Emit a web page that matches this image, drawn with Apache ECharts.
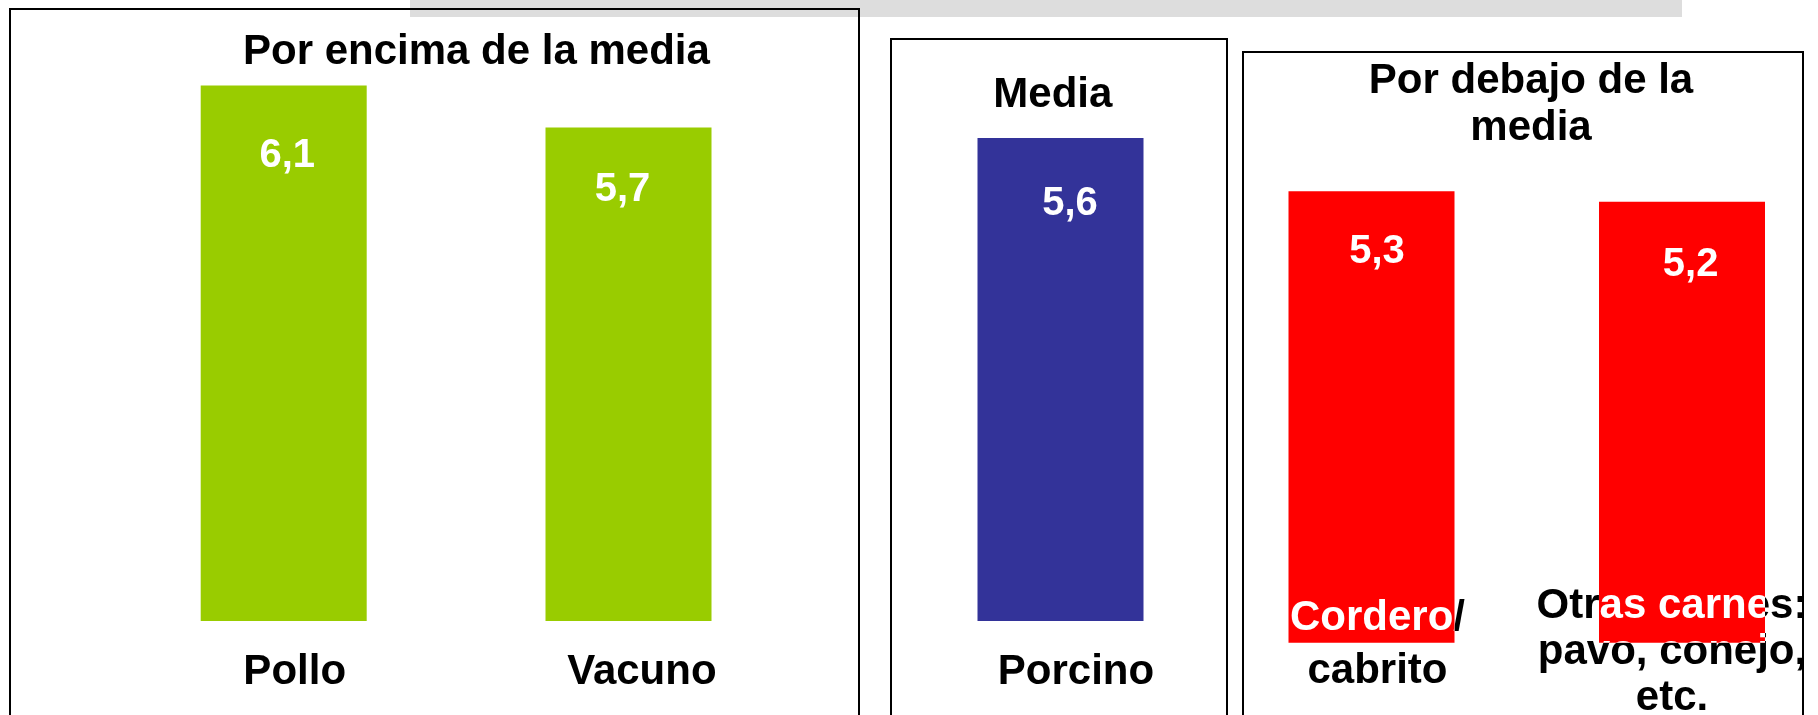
<!DOCTYPE html>
<html>
<head>
<meta charset="utf-8">
<script src="https://cdn.jsdelivr.net/npm/echarts@6/dist/echarts.min.js"></script>
<style>
  html, body { margin: 0; padding: 0; background: #ffffff; overflow: hidden; }
  #chart { width: 1840px; height: 715px; }
</style>
</head>
<body>
<div id="chart"></div>
<script>
// ---------------- data ----------------
const catsAbove = ['Pollo', 'Vacuno'];
const valsAbove = [6.1, 5.7];
const catsMean = ['Porcino'];
const valsMean = [5.6];
const catsBelow = ['Cordero/\ncabrito', 'Otras carnes:\npavo, conejo,\netc.'];
const valsBelow = [5.3, 5.2];
const panelTitles = ['Por encima de la media', 'Media', 'Por debajo de la\nmedia'];

// ---------------- layout / style ----------------
const FONT_FAMILY = '"Liberation Sans", Arial, Helvetica, sans-serif';
const Y_MIN = 1, Y_MAX = 6.5;
const BAR_W = 166;

const panels = [
  { cats: catsAbove, vals: valsAbove, color: '#99CC00',
    grid: { left: 111.3, width: 689.6, top: 43.5, height: 577.5 },
    valueLabelOffset: [[3.6, 70.3], [-6, 62.6]], catDx: [11, 13.4], catDy: [51.5, 51.5], catLH: [50, 50],
    box: { x: 10, y: 9, width: 849, height: 720 },
    title: { x: 476.4, y: 52.1, lh: 52 } },
  { cats: catsMean, vals: valsMean, color: '#333399',
    grid: { left: 900, width: 321, top: 43.5, height: 577.5 },
    valueLabelOffset: [[9.5, 65.5]], catDx: [15.5], catDy: [51.5], catLH: [50],
    box: { x: 891, y: 39, width: 336, height: 700 },
    title: { x: 1052.8, y: 95.9, lh: 52 } },
  { cats: catsBelow, vals: valsBelow, color: '#FF0000',
    grid: { left: 1216.25, width: 621, top: 65.2, height: 577.5 },
    valueLabelOffset: [[5.5, 61], [8.6, 63]], catDx: [6, -10], catDy: [2.3, 9.9], catLH: [53.5, 46],
    box: { x: 1243, y: 52, width: 560, height: 700 },
    title: { x: 1531, y: 104.8, lh: 47.4 } }
];

function fmt(v) { return Number(v).toFixed(1).replace('.', ','); }

function barSeries(p, i) {
  return {
    type: 'bar', xAxisIndex: i, yAxisIndex: i, barWidth: BAR_W, z: 2,
    itemStyle: { color: p.color },
    data: p.vals.map((v, j) => ({ value: v, label: { offset: p.valueLabelOffset[j] } })),
    label: {
      show: true, position: ['50%', 0], align: 'center', verticalAlign: 'middle',
      color: '#ffffff', fontSize: 40, fontWeight: 'bold', fontFamily: FONT_FAMILY,
      formatter: (prm) => fmt(prm.value)
    }
  };
}

function catLabelSeries(p, i, white) {
  return {
    type: 'custom', xAxisIndex: i, yAxisIndex: i, z: white ? 3 : 1, clip: false, silent: true,
    data: p.vals.map((v, j) => [j, v]),
    encode: { x: 0, y: 1 },
    renderItem: function (params, api) {
      const j = api.value(0), v = api.value(1);
      const top = api.coord([j, v]);
      const base = api.coord([j, Y_MIN]);
      const cx = top[0] + p.catDx[j];
      const cy = base[1] + p.catDy[j];
      const el = {
        type: 'text', x: cx, y: cy,
        style: {
          text: p.cats[j], fill: white ? '#ffffff' : '#000000',
          font: 'bold 42px ' + FONT_FAMILY,
          align: 'center', verticalAlign: 'middle',
          textAlign: 'center', textVerticalAlign: 'middle', lineHeight: p.catLH[j]
        }
      };
      if (white) {
        el.clipPath = { type: 'rect', shape: {
          x: top[0] - BAR_W / 2 - cx, y: top[1] - cy,
          width: BAR_W, height: base[1] - top[1] } };
      }
      return el;
    }
  };
}

const graphics = [
  { type: 'rect', z: 0, shape: { x: 410, y: 0, width: 1272, height: 17 }, style: { fill: '#DDDDDD' } }
];
panels.forEach((p, i) => {
  graphics.push({ type: 'rect', z: 1, shape: p.box, style: { fill: 'none', stroke: '#000000', lineWidth: 2 } });
  graphics.push({ type: 'text', z: 1, x: p.title.x, y: p.title.y, style: {
    text: panelTitles[i], fill: '#000000', font: 'bold 42px ' + FONT_FAMILY,
    align: 'center', verticalAlign: 'middle', textAlign: 'center', textVerticalAlign: 'middle',
    lineHeight: p.title.lh } });
});

const option = {
  animation: false,
  backgroundColor: '#ffffff',
  grid: panels.map(p => Object.assign({ containLabel: false, outerBoundsMode: 'none' }, p.grid)),
  xAxis: panels.map((p, i) => ({ type: 'category', gridIndex: i, data: p.cats, show: false })),
  yAxis: panels.map((p, i) => ({ type: 'value', gridIndex: i, min: Y_MIN, max: Y_MAX, startValue: Y_MIN,
    show: false, splitLine: { show: false } })),
  graphic: graphics,
  series: [].concat(
    panels.map((p, i) => barSeries(p, i)),
    panels.map((p, i) => catLabelSeries(p, i, false)),
    panels.map((p, i) => catLabelSeries(p, i, true))
  )
};

const chart = echarts.init(document.getElementById('chart'), null, { renderer: 'canvas' });
chart.setOption(option);
</script>
</body>
</html>
